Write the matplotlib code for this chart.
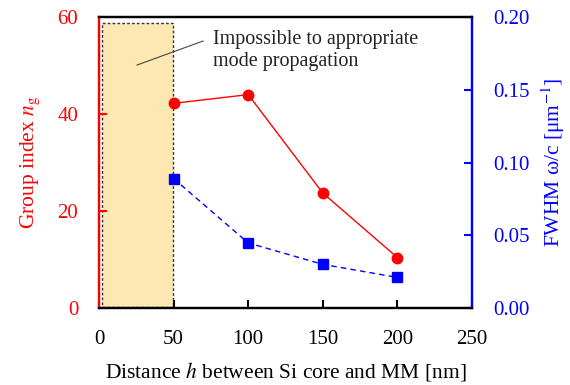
import matplotlib
matplotlib.use("Agg")
import matplotlib.pyplot as plt
from matplotlib.patches import Rectangle

plt.rcParams['font.family'] = ['Liberation Serif', 'DejaVu Serif']
plt.rcParams['mathtext.fontset'] = 'stix'

distance = [50, 100, 150, 200]
group_index = [42.2, 44.0, 23.7, 10.4]
fwhm = [0.089, 0.0447, 0.030, 0.021]
x_ticks = [0, 50, 100, 150, 200, 250]
left_ticks = [0, 20, 40, 60]
right_ticks = [0.00, 0.05, 0.10, 0.15, 0.20]
right_tick_labels = ["0.00", "0.05", "0.10", "0.15", "0.20"]

red = "#ff0000"
blue = "#0000ff"
tick_fs = 15
label_fs = 15.5

fig = plt.figure(figsize=(5.7, 3.85), dpi=100)
ax = fig.add_axes([0.1737, 0.2, 0.6544, 0.7558])
ax2 = ax.twinx()

# region where the mode cannot propagate
ax.add_patch(Rectangle((1.8, 0.3), 48.0, 58.5, facecolor="#fde8b4",
                       edgecolor="#333333", linestyle=(0, (2, 1.5)), linewidth=1.0, zorder=1))

ax.plot(distance, group_index, color=red, marker="o", markersize=7.5, linewidth=1.0, zorder=3)
ax2.plot(distance, fwhm, color=blue, marker="s", markersize=7, linewidth=1.0,
         linestyle=(0, (4, 3)), zorder=3)

ax.set_xlim(0, 250)
ax.set_ylim(0, 60)
ax2.set_ylim(0, 0.2)
ax.set_xticks(x_ticks)
ax.set_yticks(left_ticks)
ax2.set_yticks(right_ticks)
ax2.set_yticklabels(right_tick_labels)

ax.tick_params(axis="x", direction="in", length=6, width=1.5, colors="black",
               labelsize=tick_fs, pad=16)
ax.tick_params(axis="y", direction="in", length=6, width=1.5, colors=red,
               labelsize=tick_fs, pad=15)
ax2.tick_params(axis="y", direction="in", length=6, width=1.5, colors=blue,
                labelsize=tick_fs, pad=15)

for a in (ax, ax2):
    a.spines["top"].set_color("black")
    a.spines["bottom"].set_color("black")
    a.spines["left"].set_color(red)
    a.spines["right"].set_color(blue)
    for s in a.spines.values():
        s.set_linewidth(1.6)

ax.set_xlabel("Distance $\\mathit{h}$ between Si core and MM [nm]", fontsize=label_fs, labelpad=8)
ax.set_ylabel("Group index $\\mathit{n}_{\\mathrm{g}}$", fontsize=label_fs, color=red, labelpad=11)
ax2.set_ylabel("FWHM ω/c [μm$^{-1}$]", fontsize=label_fs, color=blue, labelpad=7)

# annotation text and its leader line
ax.text(76.4, 53.1, "Impossible to appropriate\nmode propagation", fontsize=14.5,
        va="center", ha="left", linespacing=1.2, color="#222222")
ax.plot([25.5, 69.7], [50.1, 55.05], color="#444444", linewidth=0.8, zorder=2)

fig.savefig("out.png", dpi=100)
